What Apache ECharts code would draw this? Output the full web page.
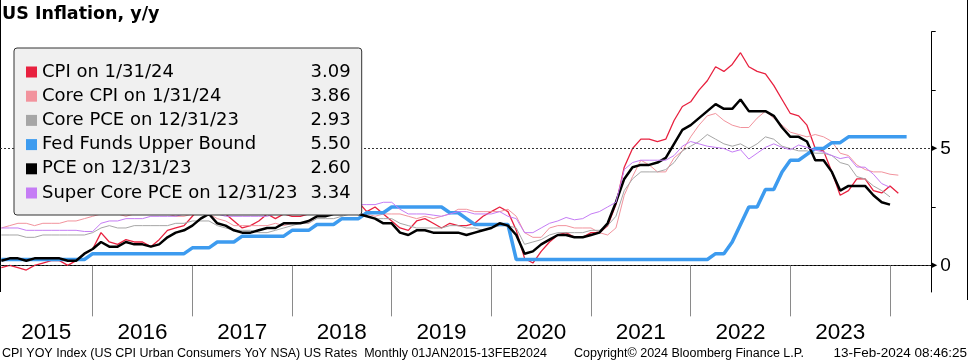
<!DOCTYPE html>
<html>
<head>
<meta charset="utf-8">
<script src="https://cdn.jsdelivr.net/npm/echarts@6.0.0/dist/echarts.min.js"></script>
<style>
html,body{margin:0;padding:0;background:#fff;}
#chart{width:969px;height:364px;}
</style>
</head>
<body>
<div id="chart"></div>
<script>
// Monthly observations, month-end dates; index 1 = Jan 2015
const yearLabels = ['2015','2016','2017','2018','2019','2020','2021','2022','2023'];
const seriesNames = ['CPI on 1/31/24','Core CPI on 1/31/24','Core PCE on 12/31/23','Fed Funds Upper Bound','PCE on 12/31/23','Super Core PCE on 12/31/23'];
const legendValues = ['3.09','3.86','2.93','5.50','2.60','3.34'];

const cpi = [
 -0.1,0.0,-0.1,-0.2,0.0,0.1,0.2,0.2,0.0,0.2,0.5,0.7,
 1.4,1.0,0.9,1.1,1.0,1.0,0.8,1.1,1.5,1.6,1.7,2.1,
 2.5,2.7,2.4,2.2,1.9,1.6,1.7,1.9,2.2,2.0,2.2,2.1,
 2.1,2.2,2.4,2.5,2.8,2.9,2.9,2.7,2.3,2.5,2.2,1.9,
 1.6,1.5,1.9,2.0,1.8,1.6,1.8,1.7,1.7,1.8,2.1,2.3,
 2.5,2.3,1.5,0.3,0.1,0.6,1.0,1.3,1.4,1.2,1.2,1.4,
 1.4,1.7,2.6,4.2,5.0,5.4,5.4,5.3,5.4,6.2,6.8,7.0,
 7.5,7.9,8.5,8.3,8.6,9.1,8.5,8.3,8.2,7.7,7.1,6.5,
 6.4,6.0,5.0,4.9,4.0,3.0,3.2,3.7,3.7,3.2,3.1,3.4,
 3.09];
const coreCpi = [
 1.6,1.7,1.8,1.8,1.7,1.8,1.8,1.8,1.9,1.9,2.0,2.1,
 2.2,2.3,2.2,2.1,2.2,2.2,2.2,2.3,2.2,2.1,2.1,2.2,
 2.3,2.2,2.0,1.9,1.7,1.7,1.7,1.7,1.7,1.8,1.7,1.8,
 1.8,1.8,2.1,2.1,2.2,2.3,2.4,2.2,2.2,2.1,2.2,2.2,
 2.2,2.1,2.0,2.1,2.0,2.1,2.2,2.4,2.4,2.3,2.3,2.3,
 2.3,2.4,2.1,1.4,1.2,1.2,1.6,1.7,1.7,1.6,1.6,1.6,
 1.4,1.3,1.6,3.0,3.8,4.5,4.3,4.0,4.0,4.6,4.9,5.5,
 6.0,6.4,6.5,6.2,6.0,5.9,5.9,6.3,6.6,6.3,6.0,5.7,
 5.6,5.5,5.6,5.5,5.3,4.8,4.7,4.3,4.1,4.0,4.0,3.9,
 3.86];
const corePce = [
 1.3,1.3,1.3,1.2,1.2,1.3,1.3,1.3,1.3,1.3,1.3,1.4,
 1.6,1.7,1.6,1.6,1.7,1.7,1.7,1.7,1.7,1.8,1.8,1.9,
 1.9,1.9,1.7,1.6,1.5,1.5,1.5,1.4,1.4,1.5,1.6,1.7,
 1.8,1.8,2.0,2.0,2.0,2.1,2.2,2.2,2.1,2.0,2.0,2.0,
 1.8,1.7,1.6,1.6,1.6,1.6,1.7,1.7,1.6,1.6,1.5,1.6,
 1.7,1.7,1.6,0.9,1.0,1.1,1.3,1.4,1.4,1.4,1.4,1.5,
 1.5,1.7,2.1,3.2,3.7,4.0,4.0,4.0,4.1,4.4,4.9,5.1,
 5.3,5.6,5.4,5.2,5.1,5.2,5.0,5.2,5.5,5.4,5.1,5.0,
 4.9,4.9,4.8,4.8,4.7,4.4,4.3,3.8,3.7,3.4,3.2,2.93];
const fedFunds = [
 0.25,0.25,0.25,0.25,0.25,0.25,0.25,0.25,0.25,0.25,0.25,0.5,
 0.5,0.5,0.5,0.5,0.5,0.5,0.5,0.5,0.5,0.5,0.5,0.75,
 0.75,0.75,1.0,1.0,1.0,1.25,1.25,1.25,1.25,1.25,1.25,1.5,
 1.5,1.5,1.75,1.75,1.75,2.0,2.0,2.0,2.25,2.25,2.25,2.5,
 2.5,2.5,2.5,2.5,2.5,2.5,2.25,2.25,2.0,1.75,1.75,1.75,
 1.75,1.75,0.25,0.25,0.25,0.25,0.25,0.25,0.25,0.25,0.25,0.25,
 0.25,0.25,0.25,0.25,0.25,0.25,0.25,0.25,0.25,0.25,0.25,0.25,
 0.25,0.25,0.5,0.5,1.0,1.75,2.5,2.5,3.25,3.25,4.0,4.5,
 4.5,4.75,5.0,5.0,5.25,5.25,5.5,5.5,5.5,5.5,5.5,5.5,
 5.5,5.5];
const pce = [
 0.2,0.3,0.3,0.2,0.3,0.3,0.3,0.3,0.2,0.2,0.5,0.7,
 1.0,0.8,0.8,1.0,0.9,0.9,0.8,0.9,1.2,1.4,1.5,1.7,
 2.0,2.2,1.8,1.7,1.5,1.4,1.4,1.5,1.6,1.6,1.8,1.8,
 1.8,1.9,2.1,2.1,2.2,2.2,2.3,2.2,2.1,2.0,1.8,1.8,
 1.4,1.3,1.5,1.5,1.4,1.4,1.4,1.4,1.3,1.4,1.5,1.6,
 1.8,1.7,1.3,0.5,0.6,0.9,1.1,1.3,1.3,1.2,1.2,1.3,
 1.4,1.8,2.7,3.7,4.2,4.3,4.3,4.4,4.6,5.2,5.8,6.0,
 6.3,6.6,6.9,6.7,6.7,7.1,6.6,6.6,6.6,6.4,5.9,5.5,
 5.5,5.3,4.5,4.5,4.0,3.2,3.4,3.4,3.4,3.0,2.7,2.60];
const superCorePce = [
 1.6,1.6,1.6,1.5,1.5,1.5,1.5,1.5,1.5,1.5,1.45,1.45,
 1.8,1.9,1.9,2.0,2.0,2.0,2.1,2.1,2.1,2.1,2.2,2.2,
 2.3,2.3,2.2,2.1,2.1,2.1,2.1,2.1,2.1,2.2,2.2,2.3,
 2.4,2.4,2.5,2.5,2.5,2.5,2.6,2.6,2.6,2.6,2.7,2.7,
 2.4,2.2,2.2,2.2,2.15,2.1,2.2,2.3,2.3,2.2,2.2,2.2,
 2.3,2.1,2.0,1.4,1.4,1.6,1.8,1.9,2.05,1.95,2.0,2.2,
 2.3,2.5,2.7,4.1,4.4,4.5,4.5,4.5,4.5,4.7,5.1,5.3,
 5.2,5.1,5.05,5.0,4.85,4.95,4.55,4.8,5.05,5.2,5.05,4.95,
 5.15,5.05,4.93,4.85,4.7,4.57,4.64,4.21,4.2,3.9,3.5,3.34];

const colors = ['#e8213f','#f2939d','#a6a6a6','#3d9bef','#000000','#c57cf5'];
const widths = [1.3,1,1,3.5,2.5,1];
const allData = [cpi, coreCpi, corePce, fedFunds, pce, superCorePce];

const toPoints = arr => arr.map((v, k) => [k + 1, v]);

const series = allData.map((arr, i) => {
  const s = {
    name: seriesNames[i],
    type: 'line',
    data: toPoints(arr),
    showSymbol: false,
    symbol: 'none',
    silent: true,
    animation: false,
    itemStyle: {color: colors[i]},
    lineStyle: {color: colors[i], width: widths[i]},
    z: 2 + i
  };
  if (i === 0) {
    s.markLine = {
      silent: true, symbol: 'none', animation: false,
      label: {show: false},
      lineStyle: {type: [2, 2], color: '#333', width: 1},
      data: [{yAxis: 0}, {yAxis: 5}]
    };
  }
  return s;
});

const footerLeft = 'CPI YOY Index (US CPI Urban Consumers YoY NSA) US Rates  Monthly 01JAN2015-13FEB2024';
const footerMid = 'Copyright\u00A9 2024 Bloomberg Finance L.P.';
const footerRight = '13-Feb-2024 08:46:25';
const footFont = '12.5px "Liberation Sans", sans-serif';

const chart = echarts.init(document.getElementById('chart'), null, {renderer: 'canvas'});
chart.setOption({
  animation: false,
  backgroundColor: '#ffffff',
  title: {
    text: 'US Inflation, y/y', left: 2, top: 5, padding: 0,
    textStyle: {fontFamily: 'DejaVu Sans', fontWeight: 'bold', fontSize: 17.5, color: '#000'}
  },
  grid: {left: 0, right: 37.3, top: 31.7, bottom: 72, containLabel: false},
  xAxis: {
    type: 'value', min: 0.838, max: 113.02,
    axisLine: {show: true, lineStyle: {color: '#000', width: 1}},
    axisTick: {show: true, customValues: [12,24,36,48,60,72,84,96,108], length: 51, lineStyle: {color: '#8a8a8a', width: 1}},
    axisLabel: {
      customValues: [6.42,18,30,42,54,66,78,90,102],
      formatter: v => yearLabels[Math.floor(v / 12)],
      fontSize: 22.5, margin: 29, color: '#000',
      fontFamily: '"Liberation Sans", sans-serif'
    },
    splitLine: {show: false}
  },
  yAxis: {
    type: 'value', position: 'right', min: -1.14, max: 10,
    axisLine: {show: true, lineStyle: {color: '#000', width: 1}},
    axisTick: {show: true, customValues: [0,2.5,5,7.5,10], length: 4, lineStyle: {color: '#000'}},
    axisLabel: {
      customValues: [0,5], margin: 0,
      formatter: v => '{t|\u25B8}{n|' + v + '}',
      rich: {
        t: {fontSize: 11, color: '#000', fontFamily: 'DejaVu Sans', lineHeight: 20, verticalAlign: 'middle'},
        n: {fontSize: 19, color: '#000', fontFamily: 'Liberation Sans', lineHeight: 20, padding: [0,0,0,3], verticalAlign: 'middle'}
      }
    },
    splitLine: {show: false}
  },
  legend: {
    orient: 'vertical', left: 14, top: 48,
    padding: [15, 11, 13, 12],
    backgroundColor: '#f0f0f0', borderColor: '#333', borderWidth: 1, borderRadius: 3,
    itemWidth: 11, itemHeight: 11, itemGap: 6.2, icon: 'rect',
    itemStyle: {borderWidth: 0},
    selectedMode: false, z: 20,
    data: seriesNames,
    formatter: name => '{n|' + name + '}{v|' + legendValues[seriesNames.indexOf(name)] + '}',
    textStyle: {
      fontSize: 18, lineHeight: 18, fontFamily: 'DejaVu Sans',
      rich: {
        n: {width: 262, fontSize: 18, fontFamily: 'DejaVu Sans', lineHeight: 18, color: '#000'},
        v: {width: 46.7, align: 'right', fontSize: 18, fontFamily: 'DejaVu Sans', lineHeight: 18, color: '#000'}
      }
    }
  },
  graphic: [
    {type: 'line', shape: {x1: 0.5, y1: 0, x2: 0.5, y2: 292}, style: {stroke: '#000', lineWidth: 1}, silent: true},
    {type: 'line', shape: {x1: 967.5, y1: 0, x2: 967.5, y2: 300}, style: {stroke: '#000', lineWidth: 1}, silent: true},
    {type: 'text', left: 2, top: 347, style: {text: footerLeft, font: footFont, fill: '#000'}, silent: true},
    {type: 'text', left: 574, top: 347, style: {text: footerMid, font: footFont, fill: '#000'}, silent: true},
    {type: 'text', right: 2, top: 346.5, style: {text: footerRight, font: '13.5px "Liberation Sans", sans-serif', fill: '#000'}, silent: true}
  ],
  series: series
});
</script>
</body>
</html>
